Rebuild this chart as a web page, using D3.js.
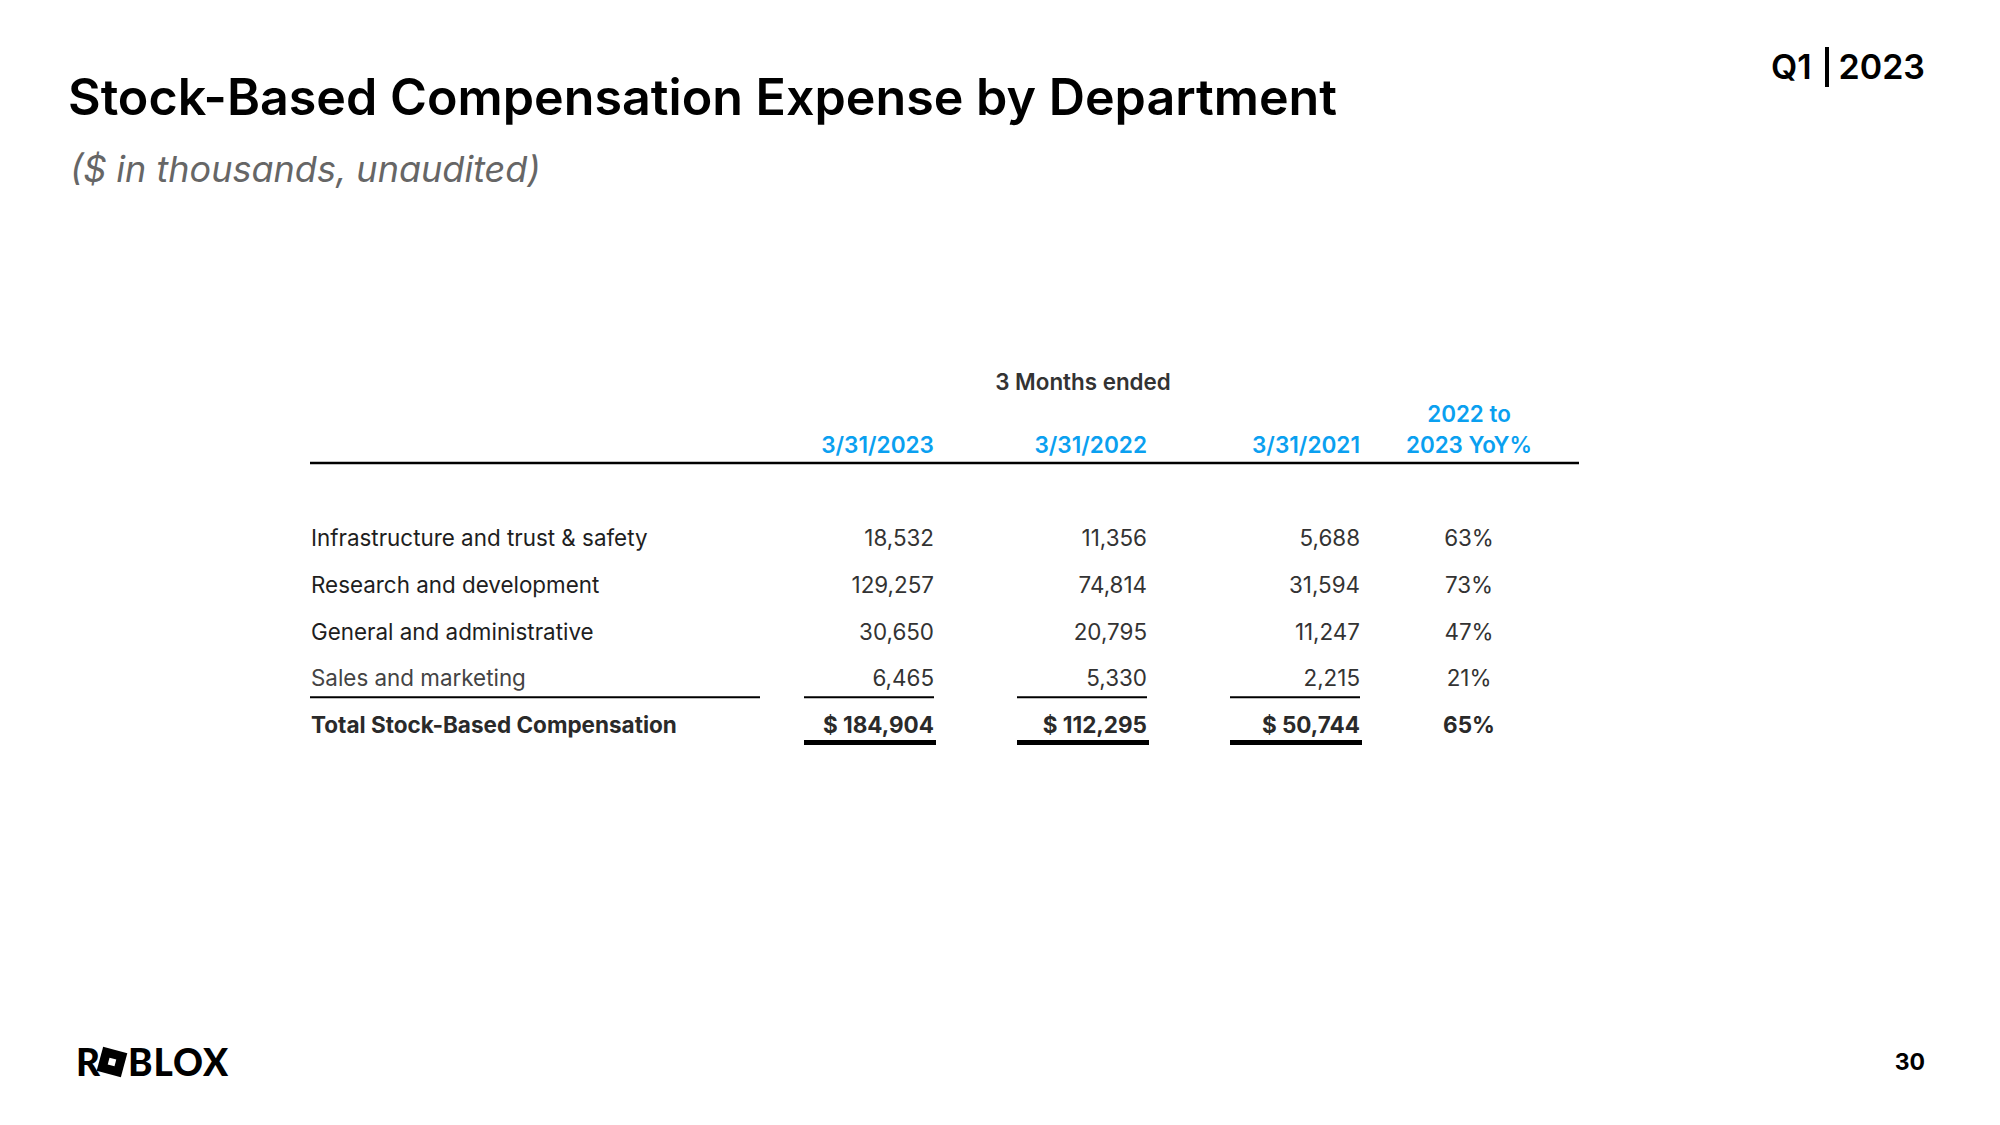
<!DOCTYPE html>
<html>
<head>
<meta charset="utf-8">
<script src="https://cdn.jsdelivr.net/npm/d3@7"></script>
<style>
  html, body { margin: 0; padding: 0; background: #fff; }
  svg { display: block; font-family: Inter, "Noto Sans", sans-serif; }
</style>
</head>
<body>
<svg width="2000" height="1125"></svg>
<script>
// ---- data ----
var departments = ["Infrastructure and trust & safety", "Research and development", "General and administrative", "Sales and marketing"];
var q1_2023 = [18532, 129257, 30650, 6465];
var q1_2022 = [11356, 74814, 20795, 5330];
var q1_2021 = [5688, 31594, 11247, 2215];
var yoy = [63, 73, 47, 21];
var totalLabel = "Total Stock-Based Compensation";
var totals = [184904, 112295, 50744];
var totalYoy = 65;
var periodHeaders = ["3/31/2023", "3/31/2022", "3/31/2021"];
var yoyHeader = ["2022 to", "2023 YoY%"];

var svg = d3.select("svg"),
    width = +svg.attr("width"),
    height = +svg.attr("height");

var blue = "#0aa0f0";
var fmt = d3.format(",");

// title block
svg.append("text")
    .attr("x", 68).attr("y", 115)
    .attr("font-size", 50.2).attr("font-weight", 600)
    .attr("fill", "#000")
    .text("Stock-Based Compensation Expense by Department");

svg.append("text")
    .attr("x", 70).attr("y", 182)
    .attr("font-size", 36).attr("font-style", "italic")
    .attr("fill", "#666")
    .text("($ in thousands, unaudited)");

// Q1 | 2023
var q = svg.append("g").attr("font-size", 34).attr("font-weight", 600).attr("fill", "#000");
q.append("text").attr("x", 1771).attr("y", 79).text("Q1");
q.append("rect").attr("x", 1825).attr("y", 47).attr("width", 4).attr("height", 40).attr("fill", "#000");
q.append("text").attr("x", 1925).attr("y", 79).attr("text-anchor", "end").text("2023");

// columns
var cols = ["c2023", "c2022", "c2021"];
var x = d3.scaleOrdinal().domain(cols).range([934, 1147, 1360]);
var colWidth = 130;
var yoyX = 1469;
var labelX = 311;

var rows = departments.concat([totalLabel]);
var y = d3.scalePoint().domain(rows).range([546, 733]);

// header
svg.append("text")
    .attr("x", 1083).attr("y", 390)
    .attr("text-anchor", "middle")
    .attr("font-size", 22.4).attr("font-weight", 600).attr("fill", "#333")
    .text("3 Months ended");

svg.append("g").selectAll("text")
    .data(periodHeaders)
    .enter().append("text")
    .attr("x", function(d, i) { return x(cols[i]); })
    .attr("y", 453)
    .attr("text-anchor", "end")
    .attr("font-size", 22.6).attr("font-weight", 600).attr("fill", blue)
    .text(function(d) { return d; });

svg.append("g").selectAll("text")
    .data(yoyHeader)
    .enter().append("text")
    .attr("x", yoyX)
    .attr("y", function(d, i) { return 422 + i * 31; })
    .attr("text-anchor", "middle")
    .attr("font-size", 22.4).attr("font-weight", 600).attr("fill", blue)
    .text(function(d) { return d; });

svg.append("line")
    .attr("x1", 310).attr("x2", 1579)
    .attr("y1", 463).attr("y2", 463)
    .attr("stroke", "#000").attr("stroke-width", 2.5);

// body rows
var body = svg.append("g").attr("font-size", 22.4).attr("fill", "#2a2a2a");

body.selectAll(".label")
    .data(departments)
    .enter().append("text")
    .attr("class", "label")
    .attr("x", labelX)
    .attr("y", function(d) { return y(d); })
    .attr("fill", function(d, i) { return i == 3 ? "#444" : "#1e1e1e"; })
    .text(function(d) { return d; });

[q1_2023, q1_2022, q1_2021].forEach(function(series, c) {
    body.append("g").selectAll("text")
        .data(series)
        .enter().append("text")
        .attr("x", x(cols[c]))
        .attr("y", function(d, i) { return y(departments[i]); })
        .attr("text-anchor", "end")
        .attr("fill", "#333")
        .text(function(d) { return fmt(d); });
});

body.append("g").selectAll("text")
    .data(yoy)
    .enter().append("text")
    .attr("x", yoyX)
    .attr("y", function(d, i) { return y(departments[i]); })
    .attr("text-anchor", "middle")
    .attr("fill", "#333")
    .text(function(d) { return d + "%"; });

// single rule under last department
var ruleY = y(departments[3]) + 11;
svg.append("line")
    .attr("x1", 310).attr("x2", 760)
    .attr("y1", ruleY).attr("y2", ruleY)
    .attr("stroke", "#000").attr("stroke-width", 2);

svg.append("g").selectAll("line")
    .data(cols)
    .enter().append("line")
    .attr("x1", function(d) { return x(d) - colWidth; })
    .attr("x2", function(d) { return x(d); })
    .attr("y1", ruleY).attr("y2", ruleY)
    .attr("stroke", "#000").attr("stroke-width", 2);

// total row
var tot = svg.append("g").attr("font-size", 22.5).attr("font-weight", 700).attr("fill", "#2a2a2a");
tot.append("text")
    .attr("x", labelX).attr("y", y(totalLabel))
    .text(totalLabel);

tot.selectAll(".tv")
    .data(totals)
    .enter().append("text")
    .attr("class", "tv")
    .attr("x", function(d, i) { return x(cols[i]); })
    .attr("y", y(totalLabel))
    .attr("text-anchor", "end")
    .text(function(d) { return "$ " + fmt(d); });

tot.append("text")
    .attr("x", yoyX).attr("y", y(totalLabel))
    .attr("text-anchor", "middle")
    .text(totalYoy + "%");

svg.append("g").selectAll("rect")
    .data(cols)
    .enter().append("rect")
    .attr("x", function(d) { return x(d) - colWidth; })
    .attr("y", y(totalLabel) + 7)
    .attr("width", colWidth + 2)
    .attr("height", 5)
    .attr("fill", "#000");

// logo
var logo = svg.append("g").attr("font-size", 37).attr("font-weight", 900).attr("fill", "#000")
    .attr("font-family", "Lato, Inter, sans-serif");
logo.append("text").attr("x", 76).attr("y", 1076).text("R");
var box = logo.append("g").attr("transform", "translate(112,1062) rotate(15)");
box.append("rect").attr("x", -12.5).attr("y", -12.5).attr("width", 25).attr("height", 25).attr("fill", "#000");
box.append("rect").attr("x", -3.5).attr("y", -3.5).attr("width", 7).attr("height", 7).attr("fill", "#fff");
logo.append("text").attr("x", 128).attr("y", 1076).attr("letter-spacing", 1).text("BLOX");

// page number
svg.append("text")
    .attr("x", 1925).attr("y", 1070)
    .attr("text-anchor", "end")
    .attr("font-size", 23).attr("font-weight", 700).attr("fill", "#000")
    .text("30");
</script>
</body>
</html>
